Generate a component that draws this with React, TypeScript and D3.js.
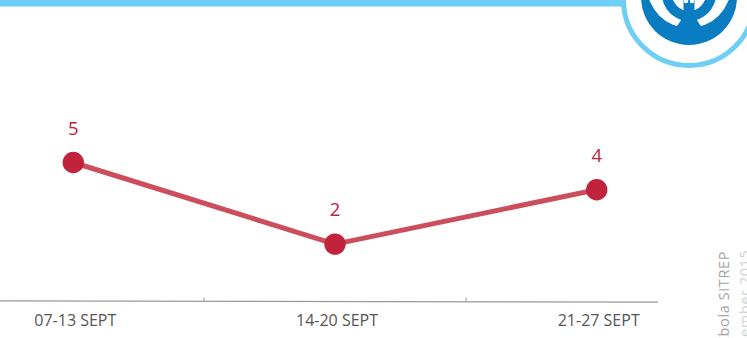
import React from "react";
import * as d3 from "d3";

const categories = ["07-13 SEPT", "14-20 SEPT", "21-27 SEPT"];
const values = [5, 2, 4];
const sideTitle = "Ebola SITREP";
const sideDate = "September 2015";

const W = 747;
const H = 338;

export default function App() {
  const x = d3.scalePoint<string>().domain(categories).range([73.3, 596.7]);
  const band = d3.scaleBand<string>().domain(categories).range([-58.2, 728.2]);
  const y = d3.scaleLinear().domain([0, 5]).range([298.5, 162.5]);
  const line = d3
    .line<number>()
    .x((_, i) => x(categories[i]) as number)
    .y((d) => y(d));
  const tickXs = categories.slice(1).map((c) => band(c) as number);

  const red = "#c0233b";
  const lineRed = "#cc4e5d";
  const blue = "#0a7cc1";
  const light = "#6dcff6";
  const font = "'Open Sans', sans-serif";

  return (
    <svg
      width={W}
      height={H}
      style={{ position: "absolute", left: 0, top: 0, background: "#fff" }}
    >
      {/* top banner */}
      <rect x={0} y={0} width={640} height={6.5} fill={light} />
      <circle cx={689} cy={0} r={65.5} fill="#fff" stroke={light} strokeWidth={5} />
      {/* logo */}
      <g>
        <circle cx={689} cy={-3} r={48} fill={blue} />
        <circle cx={689} cy={-14} r={42} fill="#fff" />
        <path
          d="M683,14 L695,14 C697,24 704,30 712,33 L666,33 C674,30 681,24 683,14 Z"
          fill={blue}
        />
        <circle cx={689} cy={-6} r={27} fill={blue} />
        <circle cx={689} cy={-6} r={17} fill="#fff" />
        <rect x={683.5} y={-12} width={11} height={30} fill={blue} />
        <circle cx={686} cy={1} r={2.2} fill="#fff" />
        <circle cx={692} cy={1} r={2.2} fill="#fff" />
      </g>

      {/* axis */}
      <line x1={0} y1={300.8} x2={658} y2={302.2} stroke="#9a9a9a" strokeWidth={1.2} />
      {tickXs.map((tx, i) => (
        <line key={i} x1={tx} x2={tx} y1={297.5} y2={301.5} stroke="#9a9a9a" strokeWidth={1} />
      ))}
      {categories.map((c) => (
        <text
          key={c}
          x={(x(c) as number) + 2}
          y={325.5}
          textAnchor="middle"
          fontFamily={font}
          fontSize={16}
          fill="#555"
        >
          {c}
        </text>
      ))}

      {/* series */}
      <path d={line(values) || ""} fill="none" stroke={lineRed} strokeWidth={5} strokeLinejoin="round" />
      {values.map((v, i) => (
        <circle key={i} cx={x(categories[i]) as number} cy={y(v)} r={10.7} fill={red} />
      ))}
      {values.map((v, i) => (
        <text
          key={"l" + i}
          x={x(categories[i]) as number}
          y={y(v) - 28}
          textAnchor="middle"
          fontFamily={font}
          fontSize={18.5}
          fill={red}
        >
          {v}
        </text>
      ))}

      {/* side text */}
      <text
        transform="translate(729,251) rotate(-90)"
        textAnchor="end"
        fontFamily={font}
        fontSize={14.5}
        letterSpacing={0.6}
        fill="#a3a3a3"
      >
        {sideTitle}
      </text>
      <text
        transform="translate(749.5,249.5) rotate(-90)"
        textAnchor="end"
        fontFamily={font}
        fontSize={14.5}
        letterSpacing={0.6}
        fill="#d2d2d2"
      >
        {sideDate}
      </text>
    </svg>
  );
}
